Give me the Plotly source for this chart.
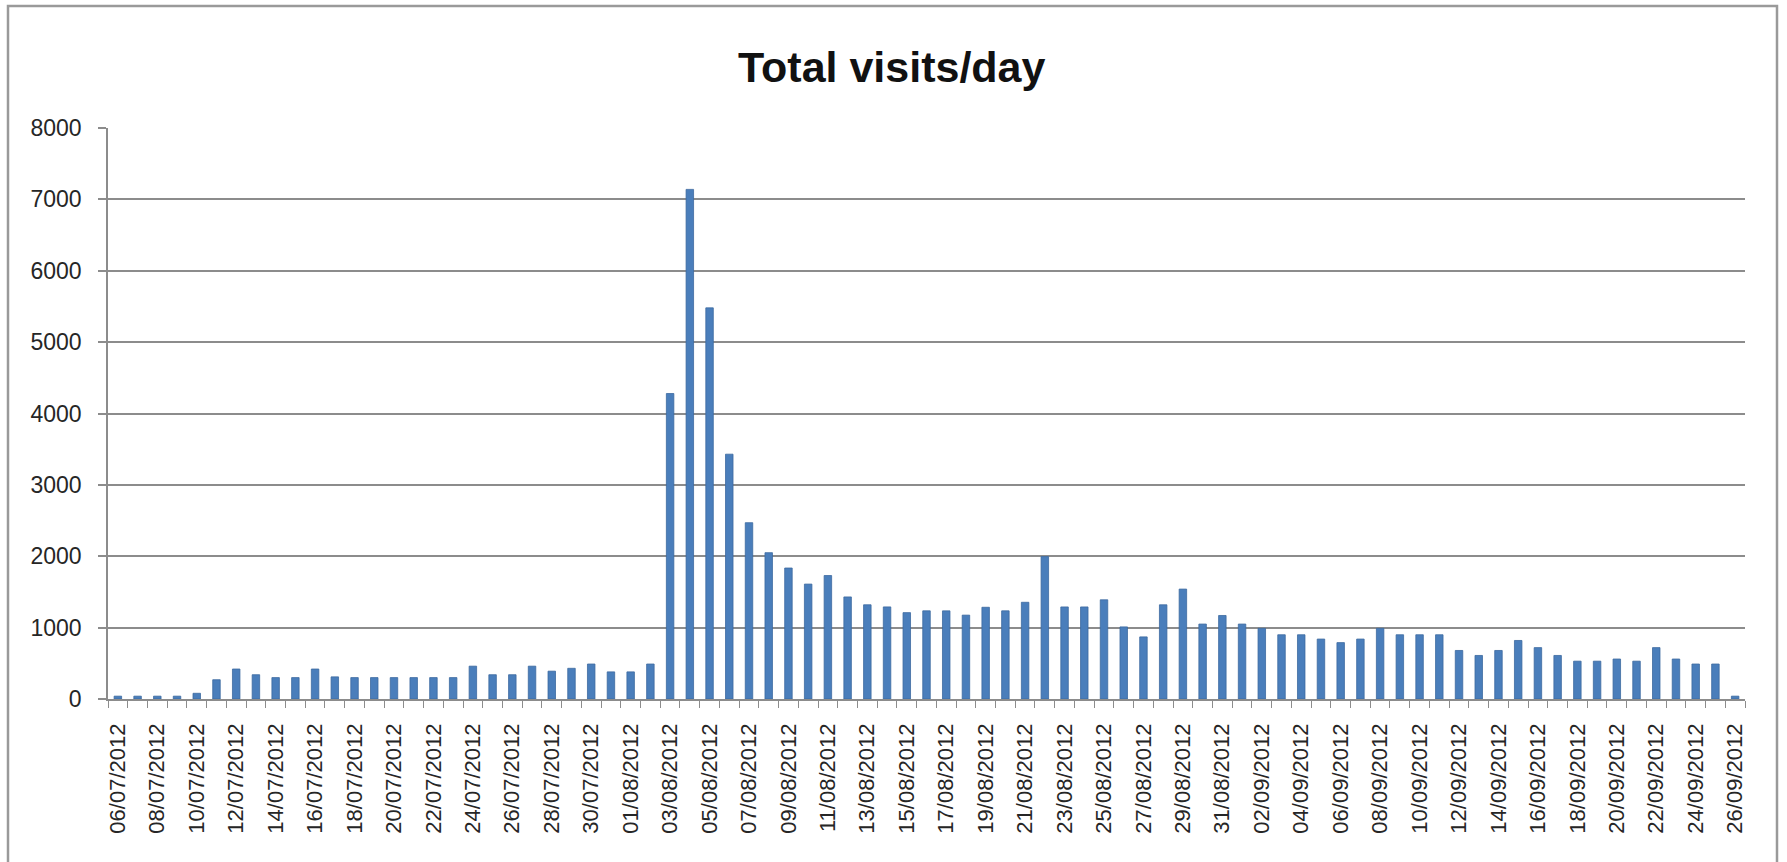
import plotly.graph_objects as go
import datetime as dt

start = dt.date(2012, 7, 6)
n_days = 83
dates = [(start + dt.timedelta(days=i)).strftime("%d/%m/%Y") for i in range(n_days)]

visits = [
    40, 40, 40, 40, 80, 270, 420, 340, 300, 300,
    420, 310, 300, 300, 300, 300, 300, 300, 460, 340,
    340, 460, 390, 430, 490, 380, 380, 490, 4280, 7140,
    5480, 3430, 2470, 2050, 1835, 1610, 1730, 1430, 1320, 1290,
    1210, 1235, 1235, 1175, 1285, 1235, 1355, 1995, 1290, 1290,
    1390, 1010, 870, 1320, 1540, 1050, 1170, 1050, 990, 900,
    900, 840, 790, 840, 990, 900, 900, 900, 680, 610,
    680, 820, 720, 610, 530, 530, 560, 530, 720, 560,
    490, 490, 40,
]

xs = list(range(n_days))
label_idx = xs[::2]
label_text = [dates[i] for i in label_idx]
boundaries = [i - 0.5 for i in range(n_days + 1)]

W, H = 1787, 862
L, R, T, B = 108, 42, 128, 163
pw, ph = W - L - R, H - T - B

fig = go.Figure(go.Bar(
    x=xs, y=visits,
    marker=dict(color="#4A7EBB", line=dict(color="#3c6aa0", width=0.8)),
    hovertext=dates,
))

fig.update_layout(
    width=W, height=H,
    margin=dict(l=L, r=R, t=T, b=B),
    paper_bgcolor="white", plot_bgcolor="white",
    bargap=0.62,
    showlegend=False,
    font=dict(family="Liberation Sans, Arial, sans-serif", color="#262626"),
    title=dict(text="<b>Total visits/day</b>", x=0.499, xanchor="center",
               y=1 - 67 / H, yanchor="middle",
               font=dict(size=43, color="#111111")),
    xaxis=dict(
        range=[-0.5, n_days - 0.5],
        tickmode="array", tickvals=label_idx, ticktext=label_text,
        tickangle=-90, tickfont=dict(size=22),
        ticks="", showgrid=False, zeroline=False,
        showline=True, linecolor="#8c8c8c", linewidth=1.5,
        ticklabelstandoff=14,
        minor=dict(tickmode="array", tickvals=boundaries, ticks="outside",
                   ticklen=7, tickcolor="#8c8c8c", tickwidth=1.2, showgrid=False),
    ),
    yaxis=dict(
        range=[0, 8000], tickmode="linear", tick0=0, dtick=1000,
        tickfont=dict(size=23),
        showgrid=True, gridcolor="#8c8c8c", gridwidth=1.5,
        zeroline=False,
        showline=True, linecolor="#8c8c8c", linewidth=1.5,
        ticks="outside", ticklen=8, tickcolor="#8c8c8c", tickwidth=1.5,
        ticklabelstandoff=12,
    ),
    shapes=[dict(
        type="rect", xref="paper", yref="paper",
        x0=(8 - L) / pw, x1=(1777 - L) / pw,
        y0=(H - B - 900) / ph, y1=(H - B - 6) / ph,
        line=dict(color="#9a9a9a", width=2.5), fillcolor="rgba(0,0,0,0)",
        layer="below",
    )],
)

fig.write_html("out.html",
               config={"displayModeBar": False},
               post_script="document.body.style.margin='0px';document.body.style.overflow='hidden';")
